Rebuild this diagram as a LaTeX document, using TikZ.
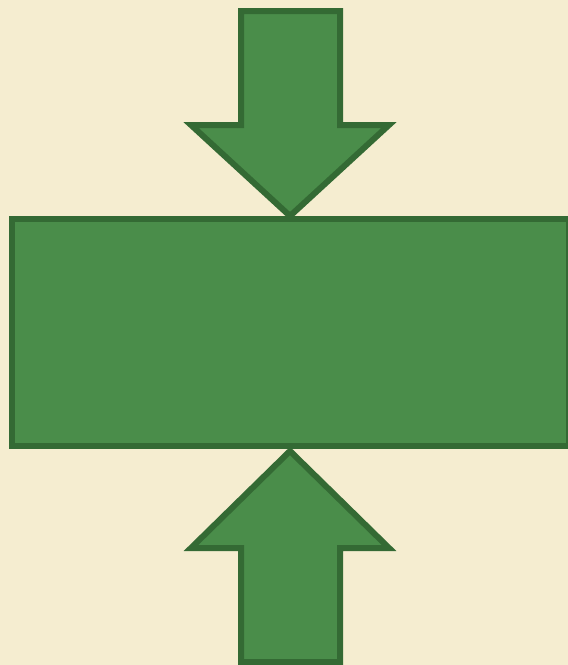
\documentclass[tikz,border=0pt]{standalone}
\usepackage{xcolor}
\definecolor{paper}{HTML}{F5EDD0}
\definecolor{leaf}{HTML}{4A8D4A}
\definecolor{leafdark}{HTML}{346A34}
\tikzset{
  solid green/.style={
    draw=leafdark,
    fill=leaf,
    line width=6pt,
    miter limit=10
  },
  block/.style={
    solid green,
    rectangle,
    inner sep=0pt,
    minimum width=557pt,
    minimum height=227pt
  }
}

\begin{document}
\begin{tikzpicture}[x=1pt, y=-1pt]
  \fill[paper] (0,0) rectangle (568,665);
  \useasboundingbox (0,0) rectangle (568,665);

  \node[block] (press) at (290.5,332.5) {};

  % arrow from above
  \draw[solid green] (241,11) -- (340,11) -- (340,125) -- (389,125) -- (290,216)
    -- (191,125) -- (241,125) -- cycle;

  % arrow from below
  \draw[solid green] (241,662) -- (340,662) -- (340,548) -- (389,548) -- (290,451)
    -- (191,548) -- (241,548) -- cycle;
\end{tikzpicture}
\end{document}
